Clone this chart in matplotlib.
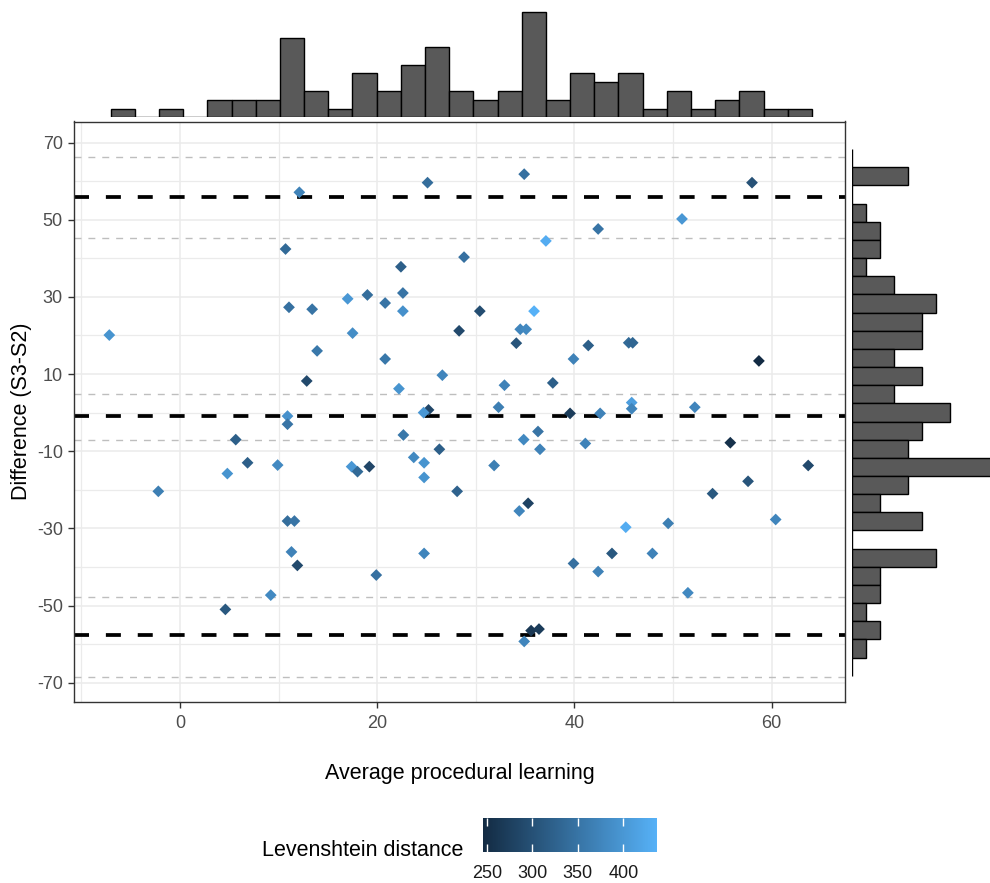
import numpy as np
import matplotlib
matplotlib.use("Agg")
import matplotlib.pyplot as plt
from matplotlib.colors import LinearSegmentedColormap, Normalize
from matplotlib.cm import ScalarMappable

plt.rcParams['font.family'] = ['Liberation Sans', 'DejaVu Sans']

# ---------------- data ----------------
avg = [-7.17, 12.1, 25.1, 10.7, 28.8, 22.4, 22.6, 17.0, 19.0, 20.8,
       22.6, 11.05, 13.4, 28.3, 17.5, 13.9, 20.8, 26.6, 12.85, 22.2,
       10.9, 25.2, 24.7, 34.9, 58.0, 50.9, 42.4, 37.1, 30.4, 35.9,
       34.5, 35.1, 34.1, 41.4, 45.5, 45.9, 39.9, 58.7, 32.9, 37.8,
       32.3, 45.8, 45.8, 52.2, 39.55, 42.6, 10.9, 22.65, 5.65, 26.3,
       23.7, 24.75, 24.75, 6.85, 4.8, 9.9, 17.4, 18.0, 19.2, -2.2,
       28.1, 10.9, 11.6, 11.3, 11.9, 19.9, 24.75, 9.2, 4.6, 31.85,
       34.85, 36.3, 36.5, 41.1, 55.8, 63.7, 57.6, 54.0, 35.3, 34.4,
       60.4, 49.5, 45.2, 43.8, 47.9, 39.9, 42.4, 51.5, 35.6, 36.4,
       34.9]
diff = [20.1, 57.1, 59.6, 42.4, 40.3, 37.8, 31.0, 29.5, 30.5, 28.4,
        26.3, 27.3, 26.8, 21.2, 20.6, 16.0, 13.9, 9.7, 8.2, 6.2,
        -0.9, 0.7, 0.0, 61.8, 59.6, 50.2, 47.6, 44.5, 26.3, 26.3,
        21.6, 21.6, 18.0, 17.4, 18.1, 18.1, 13.9, 13.4, 7.1, 7.7,
        1.4, 2.6, 1.0, 1.4, -0.2, -0.2, -3.0, -5.8, -7.0, -9.5,
        -11.6, -13.0, -16.8, -13.0, -15.8, -13.6, -14.0, -15.3, -14.0, -20.4,
        -20.4, -28.1, -28.1, -36.1, -39.6, -42.1, -36.5, -47.3, -51.0, -13.7,
        -7.0, -4.9, -9.5, -8.0, -7.8, -13.7, -17.8, -21.0, -23.5, -25.5,
        -27.7, -28.7, -29.7, -36.5, -36.5, -39.1, -41.2, -46.7, -56.5, -56.1,
        -59.3]
lev = [395, 370, 340, 335, 345, 320, 350, 400, 340, 350,
       390, 345, 350, 290, 385, 355, 355, 375, 290, 395,
       390, 285, 400, 345, 300, 400, 350, 430, 295, 437,
       375, 380, 305, 320, 335, 330, 370, 246, 370, 320,
       365, 410, 375, 375, 270, 370, 350, 355, 320, 320,
       380, 395, 395, 320, 395, 380, 400, 335, 285, 365,
       325, 340, 350, 370, 290, 345, 375, 380, 310, 365,
       380, 350, 370, 370, 255, 290, 305, 310, 280, 375,
       375, 365, 430, 310, 370, 345, 370, 380, 265, 270,
       375]

mean_diff = -0.8
upper_loa = 55.9
lower_loa = -57.6
upper_loa_ci = [45.3, 66.2]
mean_ci = [-7.1, 4.9]
lower_loa_ci = [-68.4, -47.7]

top_hist_start = -7.03
top_hist_width = 2.452
top_hist_counts = [1, 0, 1, 0, 2, 2, 2, 9, 3, 1, 5, 3, 6, 8, 3, 2, 3, 12,
                   2, 5, 4, 5, 1, 3, 1, 2, 3, 1, 1]

right_hist_top = 68.3
right_hist_width = 4.707
right_hist_counts = [0, 4, 0, 1, 2, 2, 1, 3, 6, 5, 5, 3, 5, 3, 7, 5, 4, 10,
                     4, 2, 5, 0, 6, 2, 2, 1, 2, 1, 0]  # top to bottom

x_ticks = [0, 20, 40, 60]
x_minor = [-10, 10, 30, 50]
y_ticks = [70, 50, 30, 10, -10, -30, -50, -70]
y_tick_labels = ["70", "50", "30", "10", "-10", "-30", "-50", "-70"]
y_minor = [60, 40, 20, 0, -20, -40, -60]
cbar_ticks = [250, 300, 350, 400]
cbar_labels = ["250", "300", "350", "400"]

# ---------------- figure ----------------
W, H = 990, 883
fig = plt.figure(figsize=(W / 100, H / 100), dpi=100)


def rect(l, t, r, b):
    return [l / W, 1 - b / H, (r - l) / W, (b - t) / H]


cmap = LinearSegmentedColormap.from_list("gg", ["#132B43", "#56B1F7"])
norm = Normalize(vmin=min(lev), vmax=max(lev))

ax = fig.add_axes(rect(74, 121.5, 845, 702))
ax.set_xlim(-10.75, 67.43)
ax.set_ylim(-75.0, 75.45)
ax.set_xticks(x_ticks)
ax.set_xticks(x_minor, minor=True)
ax.set_yticks(y_ticks)
ax.set_yticklabels(y_tick_labels)
ax.set_yticks(y_minor, minor=True)
ax.grid(which='major', color='#EBEBEB', lw=1.1)
ax.grid(which='minor', color='#EBEBEB', lw=0.9)
ax.set_axisbelow(True)
ax.tick_params(which='minor', length=0)
ax.tick_params(which='major', length=4, width=1, color='#333333',
               labelsize=13, labelcolor='#4D4D4D')
ax.tick_params(axis='y', pad=4)
ax.tick_params(axis='x', pad=5)
for s in ax.spines.values():
    s.set_color('#333333')
    s.set_linewidth(1.0)

for v in upper_loa_ci + mean_ci + lower_loa_ci:
    ax.axhline(v, color='#BEBEBE', lw=1.0, ls=(0, (5, 5)), zorder=1)
for v in [upper_loa, mean_diff, lower_loa]:
    ax.axhline(v, color='black', lw=2.7, ls=(0, (4, 4.5)), zorder=2)

ax.scatter(avg, diff, c=lev, cmap=cmap, norm=norm, marker='D', s=36,
           edgecolors='none', zorder=3)

# top marginal histogram
axt = fig.add_axes(rect(74, 5, 845, 117.3))
axt.set_xlim(ax.get_xlim())
axt.set_ylim(0, 112.3 / 8.78)
tx = [top_hist_start + i * top_hist_width for i in range(len(top_hist_counts))]
axt.bar(tx, top_hist_counts, width=top_hist_width, align='edge',
        color='#595959', edgecolor='black', linewidth=1.0)
axt.axis('off')

# right marginal histogram
axr = fig.add_axes(rect(851.7, 121.5, 990, 702))
axr.set_ylim(ax.get_ylim())
axr.set_xlim(0, 138.3 / 14.0)
ry = [right_hist_top - (i + 1) * right_hist_width for i in range(len(right_hist_counts))]
axr.barh(ry, right_hist_counts, height=right_hist_width, align='edge',
         color='#595959', edgecolor='black', linewidth=1.0)
axr.axis('off')

# axis titles
fig.text(459.5 / W, 1 - 773 / H, "Average procedural learning",
         ha='center', va='center', fontsize=15.5)
fig.text(22 / W, 1 - 411.5 / H, "Difference (S3-S2)", rotation=90,
         ha='center', va='center', fontsize=15.5)

# colour legend
fig.text(262 / W, 1 - 851 / H, "Levenshtein distance", ha='left', va='center',
         fontsize=15.5)
cax = fig.add_axes(rect(483.3, 818, 657, 852))
cb = fig.colorbar(ScalarMappable(norm=norm, cmap=cmap), cax=cax,
                  orientation='horizontal', ticks=cbar_ticks)
cb.set_ticklabels(cbar_labels)
cb.outline.set_visible(False)
cax.tick_params(direction='in', length=5.5, width=1, color='white', top=True,
                bottom=True, labelsize=13, pad=9, labelcolor='#1A1A1A')

fig.savefig("out.png", dpi=100)
